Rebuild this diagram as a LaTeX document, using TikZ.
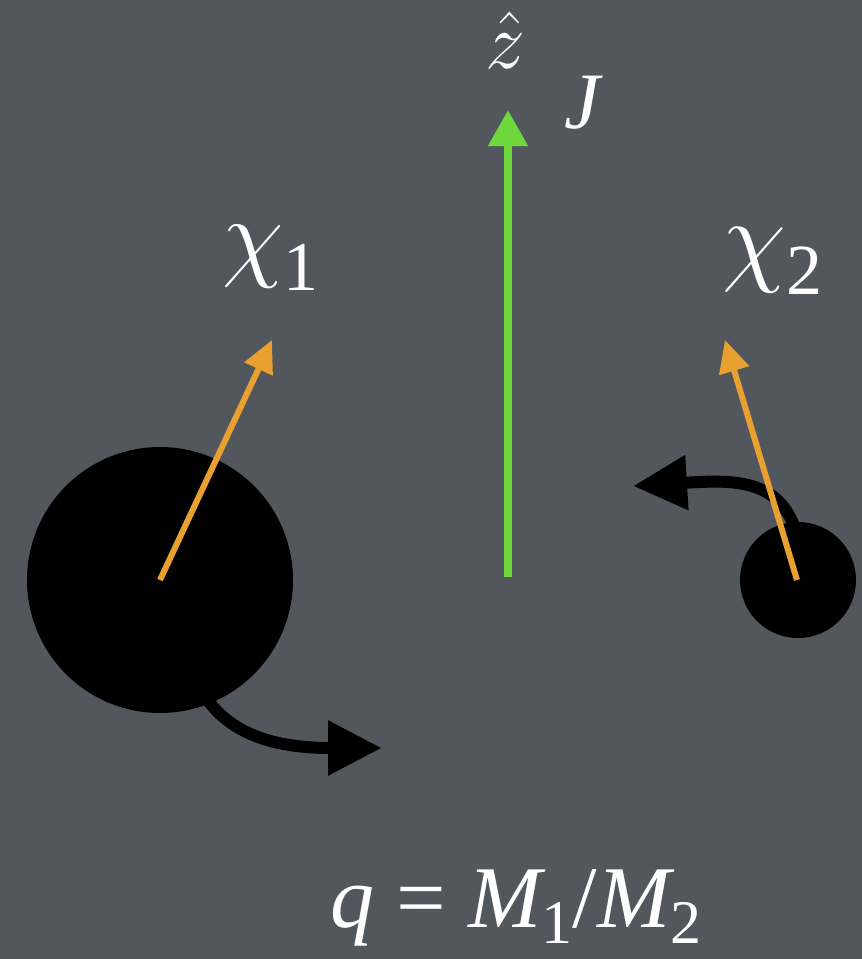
\RequirePackage{fix-cm}
\documentclass[tikz,border=0pt]{standalone}
\usepackage{fontspec}
\setmainfont{Liberation Serif}
\usetikzlibrary{arrows.meta}
\definecolor{bgc}{RGB}{82,87,94}
\definecolor{spin}{RGB}{232,160,48}
\definecolor{jgreen}{RGB}{110,216,60}
\tikzset{
  hole/.style={circle, fill=black, inner sep=0pt},
  spinarrow/.style={draw=spin, line width=6pt, -{Triangle[length=32pt,width=30pt]}},
  orbitarrow/.style={draw=black, line width=12pt, -{Triangle[length=54pt,width=52pt]}},
  jarrow/.style={draw=jgreen, line width=8pt, -{Triangle[length=36pt,width=38pt]}},
  lbl/.style={text=white, inner sep=0pt}
}
\begin{document}
\begin{tikzpicture}[x=1pt,y=-1pt]
\fill[bgc] (0,0) rectangle (862,959);
\useasboundingbox (0,0) rectangle (862,959);
% black holes
\node[hole, minimum size=266pt] (bh1) at (160,580) {};
\node[hole, minimum size=116pt] (bh2) at (798,580) {};
% orbit arrows
\coordinate (o1s) at (182,612);
\coordinate (o1e) at (382,748);
\draw[orbitarrow] (o1s) .. controls (186,712) and (240,748) .. (o1e);
\coordinate (o2s) at (794,526);
\coordinate (o2e) at (633,486);
\draw[orbitarrow] (o2s) .. controls (776,478) and (730,480) .. (o2e);
% J arrow
\coordinate (jbase) at (508,577);
\coordinate (jtip) at (508,110);
\draw[jarrow] (jbase) -- (jtip);
% spin arrows
\coordinate (s1) at (272,340);
\coordinate (s2) at (725,340);
\draw[spinarrow] (bh1.center) -- (s1);
\draw[spinarrow] ([xshift=-1pt]bh2.center) -- (s2);
% labels
\node[lbl, anchor=base west, font=\fontsize{100}{100}\selectfont] (chi1) at (222,268)
  {$\chi$\raisebox{-22pt}{\fontsize{70}{70}\selectfont 1}};
\node[lbl, anchor=base west, font=\fontsize{104}{104}\selectfont] (chi2) at (722,272)
  {$\chi$\raisebox{-22pt}{\fontsize{72}{72}\selectfont 2}};
\node[lbl, anchor=base, font=\fontsize{80}{80}\selectfont] (zhat) at (505,68) {$\hat{z}$};
\node[lbl, anchor=base, font=\fontsize{80}{80}\selectfont] (J) at (582,128) {\itshape J};
\node[lbl, anchor=base, font=\fontsize{88}{88}\selectfont] (q) at (516,927)
  {\itshape q\upshape{} = \itshape M\upshape\raisebox{-16pt}{\fontsize{62}{62}\selectfont 1}/\itshape M\upshape\raisebox{-16pt}{\fontsize{62}{62}\selectfont 2}};
\end{tikzpicture}
\end{document}
